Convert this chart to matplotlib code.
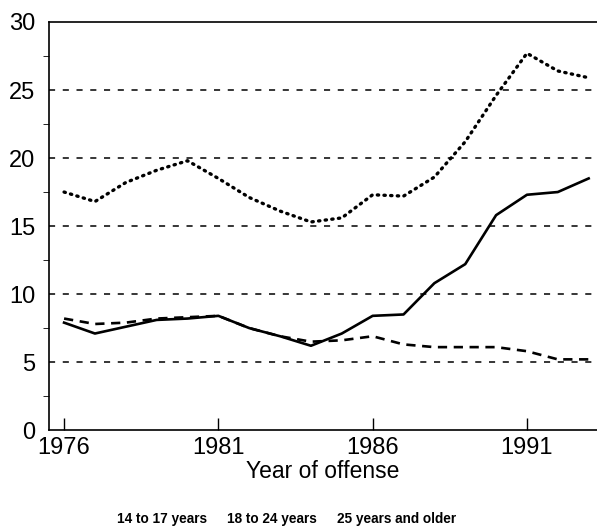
import numpy as np
import matplotlib
matplotlib.use("Agg")
import matplotlib.pyplot as plt

plt.rcParams['font.family'] = ['Liberation Sans', 'DejaVu Sans']

# values (rate per 100,000)
years = list(range(1976, 1994))
age_14_17 = [7.9, 7.1, 7.6, 8.1, 8.2, 8.4, 7.5, 6.9, 6.2, 7.1, 8.4, 8.5,
             10.8, 12.2, 15.8, 17.3, 17.5, 18.5]
age_18_24 = [17.5, 16.8, 18.2, 19.1, 19.8, 18.5, 17.1, 16.1, 15.3, 15.6, 17.3, 17.2,
             18.6, 21.2, 24.6, 27.7, 26.4, 25.9]
age_25_up = [8.2, 7.8, 7.9, 8.2, 8.3, 8.4, 7.5, 6.9, 6.5, 6.6, 6.9, 6.3,
             6.1, 6.1, 6.1, 5.8, 5.2, 5.2]
labels = ["14 to 17 years", "18 to 24 years", "25 years and older"]

fig = plt.figure(figsize=(5.97, 5.31), dpi=100)
ax = fig.add_axes([0.082, 0.19, 0.918, 0.7686])

l1, = ax.plot(years, age_14_17, color='black', lw=1.9, solid_joinstyle='round')
l2, = ax.plot(years, age_18_24, color='black', lw=2.4, linestyle=(0, (0.4, 1.6)),
              dash_capstyle='round')
l3, = ax.plot(years, age_25_up, color='black', lw=1.9, linestyle=(0, (3.5, 2.5)))

for v in [5, 10, 15, 20, 25]:
    ax.axhline(v, color='black', lw=1.1, linestyle=(0, (4, 5)), zorder=0)

ax.set_xlim(1975.51, 1993.27)
ax.set_ylim(0, 30)
ax.set_yticks(range(0, 31, 5))
ax.set_yticks(np.arange(2.5, 30, 5), minor=True)
ax.set_xticks([1976, 1981, 1986, 1991])
ax.tick_params(axis='both', direction='in', labelsize=17, width=1, colors='black')
ax.tick_params(axis='x', length=9, pad=5)
ax.tick_params(axis='y', length=0, pad=10)
ax.tick_params(axis='y', which='minor', length=4)

ax.spines['right'].set_visible(False)
for s in ['left', 'bottom', 'top']:
    ax.spines[s].set_linewidth(1.2)

ax.set_xlabel("Year of offense", fontsize=16.5, labelpad=1)

fig.legend([l1, l2, l3], labels, loc='center', bbox_to_anchor=(0.48, 0.022),
           ncol=3, frameon=False, handlelength=0, handletextpad=0,
           columnspacing=1.5, prop={'size': 9.8, 'weight': 'bold'})

fig.savefig("out.png", dpi=100)
